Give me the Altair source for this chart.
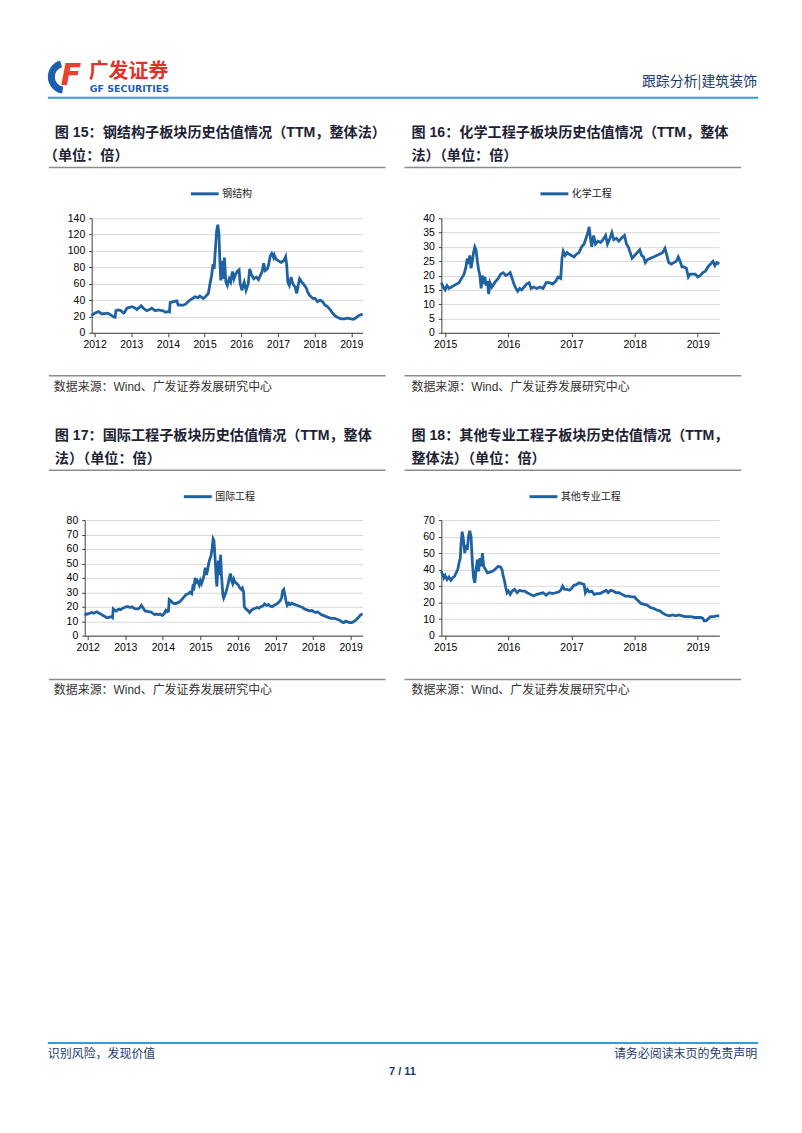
import altair as alt
import pandas as pd

# ---------------- data (decimal year, PE TTM) ----------------
YEARS_A = [2012, 2013, 2014, 2015, 2016, 2017, 2018, 2019]
YEARS_B = [2015, 2016, 2017, 2018, 2019]

STEEL = [(2011.92, 21), (2011.97, 23), (2012.06, 25), (2012.11, 26), (2012.2, 23), (2012.27, 23.5),
         (2012.34, 24), (2012.38, 23.5), (2012.47, 21), (2012.52, 19.5), (2012.56, 19), (2012.58, 27),
         (2012.63, 28), (2012.7, 27.5), (2012.79, 24), (2012.81, 24.5), (2012.88, 30), (2012.95, 31),
         (2013.01, 32), (2013.08, 31), (2013.15, 28.5), (2013.2, 30), (2013.27, 33), (2013.33, 30),
         (2013.42, 27), (2013.5, 28.5), (2013.56, 30), (2013.65, 27), (2013.74, 28), (2013.8, 27.5),
         (2013.87, 27), (2013.94, 25), (2014.01, 26), (2014.04, 25.5), (2014.06, 37), (2014.15, 38),
         (2014.24, 39), (2014.28, 34), (2014.33, 34), (2014.4, 33.5), (2014.48, 35), (2014.55, 38),
         (2014.6, 40), (2014.64, 41), (2014.73, 44), (2014.82, 43), (2014.87, 45), (2014.96, 42),
         (2015.02, 44), (2015.1, 48), (2015.14, 58), (2015.19, 70), (2015.23, 84), (2015.26, 78),
         (2015.29, 100), (2015.33, 125), (2015.36, 132), (2015.39, 122), (2015.41, 95), (2015.44, 64),
         (2015.48, 88), (2015.5, 66), (2015.54, 92), (2015.58, 62), (2015.62, 58), (2015.67, 66),
         (2015.71, 62), (2015.76, 75), (2015.8, 66), (2015.85, 72), (2015.89, 75), (2015.94, 77),
         (2015.97, 60), (2016.02, 52), (2016.05, 58), (2016.08, 62), (2016.13, 52), (2016.16, 56),
         (2016.19, 60), (2016.23, 78), (2016.27, 72), (2016.34, 66), (2016.41, 68), (2016.47, 65),
         (2016.54, 72), (2016.57, 75), (2016.61, 85), (2016.65, 76), (2016.71, 78), (2016.74, 82),
         (2016.79, 94), (2016.83, 97), (2016.88, 92), (2016.9, 95), (2016.95, 90), (2017.01, 88),
         (2017.09, 86), (2017.16, 88), (2017.21, 93), (2017.24, 82), (2017.27, 62), (2017.31, 58),
         (2017.36, 68), (2017.39, 62), (2017.43, 58), (2017.47, 56), (2017.51, 48), (2017.54, 55),
         (2017.59, 66), (2017.65, 62), (2017.69, 60), (2017.77, 55), (2017.81, 50), (2017.86, 46),
         (2017.95, 42), (2018.01, 42), (2018.08, 38), (2018.15, 40), (2018.22, 38), (2018.28, 34),
         (2018.35, 32), (2018.43, 28), (2018.49, 24), (2018.55, 21), (2018.62, 19), (2018.72, 17),
         (2018.81, 17), (2018.9, 18), (2018.99, 17), (2019.06, 16.5), (2019.12, 18), (2019.2, 21),
         (2019.31, 23)]

CHEM = [(2014.94, 17.5), (2014.97, 16), (2015.0, 15), (2015.03, 16.5), (2015.06, 15.5), (2015.1, 16),
        (2015.14, 16.5), (2015.18, 17), (2015.22, 17.5), (2015.26, 19), (2015.3, 20.5), (2015.33, 23),
        (2015.35, 26), (2015.37, 24), (2015.39, 27), (2015.41, 22.5), (2015.43, 25), (2015.45, 28),
        (2015.47, 30), (2015.49, 29), (2015.51, 25), (2015.53, 22), (2015.55, 20), (2015.57, 15.5),
        (2015.59, 20), (2015.61, 17), (2015.63, 19.5), (2015.65, 16.5), (2015.67, 18), (2015.69, 13.5),
        (2015.71, 17.5), (2015.74, 16), (2015.77, 17), (2015.8, 18), (2015.84, 19), (2015.88, 20.5),
        (2015.92, 21), (2015.96, 20), (2016.0, 20.5), (2016.03, 21), (2016.06, 19), (2016.09, 17),
        (2016.12, 15.5), (2016.15, 14.5), (2016.18, 15.5), (2016.21, 15), (2016.25, 16), (2016.29, 17),
        (2016.33, 17.5), (2016.36, 15.5), (2016.4, 16), (2016.45, 15.5), (2016.5, 16), (2016.55, 15.5),
        (2016.6, 17.5), (2016.65, 17.5), (2016.7, 17), (2016.75, 18), (2016.79, 19.5), (2016.83, 19),
        (2016.85, 26), (2016.87, 28.5), (2016.9, 27), (2016.93, 28), (2016.96, 27.5), (2017.0, 27),
        (2017.04, 26.5), (2017.08, 27.5), (2017.12, 28), (2017.16, 30), (2017.2, 31), (2017.23, 33),
        (2017.26, 35), (2017.28, 37), (2017.3, 33), (2017.32, 30), (2017.35, 34), (2017.38, 31),
        (2017.42, 32), (2017.46, 31.5), (2017.5, 32.5), (2017.54, 34), (2017.57, 31), (2017.61, 33),
        (2017.64, 35), (2017.67, 32.5), (2017.71, 33), (2017.75, 32), (2017.79, 33), (2017.84, 34),
        (2017.87, 31), (2017.9, 30), (2017.93, 28), (2017.96, 26), (2018.0, 27), (2018.04, 28),
        (2018.08, 29), (2018.11, 27), (2018.14, 26.5), (2018.17, 24.5), (2018.2, 25.5), (2018.25, 26),
        (2018.3, 26.5), (2018.35, 27), (2018.4, 27.5), (2018.44, 28), (2018.48, 29.5), (2018.51, 27),
        (2018.54, 24.5), (2018.58, 24), (2018.62, 24.5), (2018.66, 25), (2018.69, 26.5), (2018.72, 25),
        (2018.75, 23), (2018.78, 23), (2018.82, 22.5), (2018.85, 19.5), (2018.88, 20.5), (2018.92, 20.5),
        (2018.96, 20.5), (2019.0, 19.5), (2019.04, 20), (2019.08, 21), (2019.12, 21.5), (2019.16, 23),
        (2019.2, 24), (2019.24, 25), (2019.27, 23.5), (2019.3, 24.5), (2019.34, 24)]

INTL = [(2011.92, 14), (2011.96, 15), (2012.0, 15), (2012.05, 15.5), (2012.1, 16), (2012.15, 15.5),
        (2012.2, 16), (2012.25, 16.5), (2012.3, 15.5), (2012.35, 15), (2012.4, 14), (2012.45, 13.5),
        (2012.5, 12.5), (2012.55, 12.5), (2012.6, 13), (2012.64, 13), (2012.66, 12.5), (2012.68, 18.5),
        (2012.72, 17.5), (2012.76, 17), (2012.8, 18), (2012.84, 18.5), (2012.88, 18), (2012.93, 19),
        (2012.98, 19.5), (2013.03, 20), (2013.08, 20), (2013.13, 19.5), (2013.18, 20), (2013.23, 19),
        (2013.28, 18.5), (2013.33, 18.5), (2013.38, 19), (2013.43, 21), (2013.48, 19), (2013.53, 17),
        (2013.58, 17), (2013.63, 16.5), (2013.68, 16.5), (2013.73, 15.5), (2013.78, 14.5), (2013.83, 15),
        (2013.88, 14.5), (2013.93, 15), (2013.98, 14), (2014.03, 15), (2014.08, 17.5), (2014.12, 16.5),
        (2014.15, 17), (2014.17, 25), (2014.22, 24), (2014.27, 22.5), (2014.32, 22), (2014.37, 22.5),
        (2014.42, 23), (2014.47, 24), (2014.52, 25.5), (2014.57, 27), (2014.62, 28.5), (2014.67, 29),
        (2014.72, 30), (2014.77, 29), (2014.8, 34), (2014.83, 33), (2014.86, 40), (2014.89, 37),
        (2014.92, 38), (2014.97, 35), (2015.0, 38), (2015.03, 36), (2015.07, 39), (2015.1, 42),
        (2015.13, 47), (2015.16, 42), (2015.19, 45), (2015.22, 50), (2015.25, 53), (2015.28, 55),
        (2015.31, 60), (2015.34, 67), (2015.36, 66), (2015.38, 58), (2015.4, 50), (2015.42, 40),
        (2015.44, 34), (2015.46, 45), (2015.48, 52), (2015.5, 42), (2015.52, 50), (2015.54, 56),
        (2015.56, 42), (2015.58, 35), (2015.6, 28), (2015.62, 26), (2015.65, 28), (2015.68, 30),
        (2015.71, 33), (2015.74, 36), (2015.77, 40), (2015.8, 43), (2015.83, 38), (2015.86, 36),
        (2015.89, 39), (2015.92, 37), (2015.97, 36), (2016.01, 35), (2016.05, 33), (2016.09, 32),
        (2016.12, 33), (2016.15, 30), (2016.17, 20), (2016.21, 18.5), (2016.26, 17.5), (2016.31, 16),
        (2016.36, 17.5), (2016.41, 18.5), (2016.46, 19), (2016.51, 19.5), (2016.56, 19), (2016.61, 20),
        (2016.66, 20.5), (2016.71, 22), (2016.76, 21), (2016.81, 21.5), (2016.86, 20.5), (2016.91, 20),
        (2016.96, 21), (2017.01, 21.5), (2017.06, 22.5), (2017.12, 24), (2017.16, 26), (2017.19, 31),
        (2017.22, 32), (2017.25, 28), (2017.28, 24), (2017.31, 21), (2017.35, 22.5), (2017.39, 21.5),
        (2017.43, 22.5), (2017.47, 22), (2017.52, 21.5), (2017.57, 21), (2017.62, 20.5), (2017.67, 20),
        (2017.72, 19.5), (2017.77, 18.5), (2017.82, 18), (2017.87, 17.5), (2017.92, 17), (2017.97, 17.5),
        (2018.02, 16.5), (2018.07, 16), (2018.12, 16.5), (2018.17, 15.5), (2018.22, 14.5), (2018.27, 14),
        (2018.32, 13.5), (2018.37, 13), (2018.42, 12.5), (2018.47, 12), (2018.52, 12), (2018.57, 12),
        (2018.62, 11.5), (2018.67, 11), (2018.72, 10.5), (2018.77, 9.5), (2018.82, 9), (2018.87, 10),
        (2018.92, 9.5), (2018.97, 9), (2019.02, 9), (2019.07, 9.5), (2019.12, 10.5), (2019.17, 11.5),
        (2019.22, 13), (2019.27, 14.5), (2019.32, 15)]

OTHER = [(2014.94, 39), (2014.96, 37), (2014.98, 35), (2015.0, 36.5), (2015.03, 34), (2015.06, 35.5),
         (2015.09, 33.5), (2015.12, 35), (2015.15, 36), (2015.18, 38.5), (2015.2, 40), (2015.22, 44),
         (2015.24, 47), (2015.25, 55), (2015.27, 63), (2015.29, 58), (2015.31, 50), (2015.33, 55),
         (2015.35, 52), (2015.37, 60), (2015.39, 63.5), (2015.41, 60), (2015.43, 45), (2015.45, 35),
         (2015.47, 32), (2015.49, 40), (2015.51, 46), (2015.53, 39), (2015.55, 47), (2015.57, 42),
         (2015.59, 50), (2015.61, 42), (2015.64, 40), (2015.67, 38), (2015.71, 38.5), (2015.75, 39),
         (2015.8, 40.5), (2015.84, 42), (2015.88, 41.5), (2015.9, 40), (2015.92, 36), (2015.94, 33),
         (2015.96, 29), (2015.98, 26), (2016.0, 27), (2016.03, 25), (2016.06, 27), (2016.1, 28),
         (2016.14, 26), (2016.18, 27.5), (2016.22, 27), (2016.26, 27), (2016.3, 26), (2016.35, 25),
         (2016.4, 24), (2016.45, 25), (2016.5, 25.5), (2016.55, 26), (2016.6, 24.5), (2016.65, 26),
         (2016.7, 25.5), (2016.75, 26), (2016.8, 26.5), (2016.83, 27.5), (2016.86, 30), (2016.89, 28),
         (2016.93, 28), (2016.97, 27.5), (2017.0, 28.5), (2017.04, 30.5), (2017.08, 31), (2017.12, 32),
         (2017.16, 31.5), (2017.2, 31), (2017.22, 26), (2017.25, 28), (2017.28, 26.5), (2017.32, 27),
         (2017.36, 25), (2017.4, 25.5), (2017.45, 25.5), (2017.5, 26.5), (2017.55, 27.5), (2017.58, 26),
         (2017.62, 27.5), (2017.66, 27), (2017.7, 26), (2017.75, 26), (2017.8, 25), (2017.85, 24),
         (2017.9, 24), (2017.95, 23.5), (2018.0, 23.5), (2018.03, 22), (2018.06, 21), (2018.1, 19.5),
         (2018.15, 19), (2018.2, 18.5), (2018.25, 17), (2018.3, 16.5), (2018.35, 15.5), (2018.4, 15),
         (2018.45, 13.5), (2018.5, 12.5), (2018.55, 12), (2018.6, 12.5), (2018.65, 12), (2018.7, 12.5),
         (2018.75, 12), (2018.8, 11.5), (2018.85, 11.5), (2018.9, 11.5), (2018.95, 11), (2019.0, 11),
         (2019.05, 11), (2019.08, 10.5), (2019.1, 9), (2019.13, 9), (2019.16, 10), (2019.2, 11.5),
         (2019.25, 11.5), (2019.3, 12), (2019.34, 12)]

# ---------------- styles ----------------
BLUE = "#1F62A2"
NAVY = "#1B3A6B"
HEAD = "#1C2234"
GRAY_RULE = "#8C8C8C"
LIGHT_BLUE = "#3A9AD9"
FONT = "Liberation Sans, Noto Sans CJK SC"
CJK = "Noto Sans CJK SC"
OX, OY = 8, 8
ONE = pd.DataFrame({"k": [0]})


def line_chart(pairs, name, domain, years, y_max, y_step, width, height, lx, ly):
    df = pd.DataFrame(pairs, columns=["t", "v"])
    df["series"] = name
    return alt.Chart(df).mark_line(strokeWidth=2.8).encode(
        x=alt.X("t:Q", scale=alt.Scale(domain=domain, nice=False, zero=False),
                axis=alt.Axis(values=years, format="d", title=None, grid=False,
                              labelFlush=False, labelOverlap=False, labelFont="Liberation Sans",
                              labelFontSize=10.5, labelColor="#000000", labelPadding=3,
                              tickSize=4, tickColor="#404040", domainColor="#404040")),
        y=alt.Y("v:Q", scale=alt.Scale(domain=[0, y_max], nice=False),
                axis=alt.Axis(values=list(range(0, y_max + 1, y_step)), title=None, grid=True,
                              gridColor="#D9D9D9", labelFlush=False, labelOverlap=False,
                              labelFont="Liberation Sans", labelFontSize=10.5, labelColor="#000000",
                              labelPadding=4, tickSize=3, tickColor="#404040", domainColor="#404040")),
        color=alt.Color("series:N", scale=alt.Scale(range=[BLUE]),
                        legend=alt.Legend(orient="none", legendX=lx, legendY=ly, title=None,
                                          symbolType="stroke", symbolSize=784, symbolStrokeWidth=3,
                                          labelFont=CJK, labelFontSize=10, labelColor="#222222",
                                          labelOffset=2, padding=0)),
    ).properties(width=width, height=height)


def spacer(w, h):
    return alt.Chart(ONE).mark_point(opacity=0).encode(
        x=alt.value(0), y=alt.value(0)).properties(width=w, height=h)


def txt(s, x, y, size, color, weight="normal", align="left", font=FONT, italic=False):
    kw = dict(align=align, baseline="middle", fontSize=size, fontWeight=weight, font=font, color=color)
    if italic:
        kw["fontStyle"] = "italic"
    return alt.Chart(ONE).mark_text(**kw).encode(
        x=alt.value(x - OX), y=alt.value(y - OY), text=alt.value(s))


def hrule(x1, x2, y, color, w):
    return alt.Chart(ONE).mark_rule(color=color, strokeWidth=w).encode(
        x=alt.value(x1 - OX), x2=alt.value(x2 - OX), y=alt.value(y - OY))


layers = [
    # logo
    alt.Chart(ONE).mark_arc(color="#1D5FAF", radius=17, radius2=10, theta=3.3, theta2=6.0).encode(
        x=alt.value(62 - OX), y=alt.value(75 - OY)),
    txt("F", 58, 74, 30, "#E8412C", weight="bold", italic=True, font="DejaVu Sans"),
    txt("广发证券", 86, 70, 20, "#E0322B", weight="bold", font=CJK),
    txt("GF SECURITIES", 87, 87, 9.5, "#1D5FAF", weight="bold", font="DejaVu Sans"),
    txt("跟踪分析|建筑装饰", 757, 80, 14, NAVY, align="right", font=CJK),
    hrule(45, 758, 96, LIGHT_BLUE, 2),
    # headings row 1
    txt("图 15：钢结构子板块历史估值情况（TTM，整体法）", 52, 131, 14.2, HEAD, weight="bold"),
    txt("（单位：倍）", 41, 155, 14.2, HEAD, weight="bold"),
    txt("图 16：化学工程子板块历史估值情况（TTM，整体", 410, 131, 14.2, HEAD, weight="bold"),
    txt("法）（单位：倍）", 410, 155, 14.2, HEAD, weight="bold"),
    hrule(46, 384, 166, GRAY_RULE, 1.5),
    hrule(403, 741, 166, GRAY_RULE, 1.5),
    # sources row 1
    hrule(46, 384, 375, GRAY_RULE, 1.5),
    hrule(403, 741, 375, GRAY_RULE, 1.5),
    txt("数据来源：Wind、广发证券发展研究中心", 51, 386, 12, "#333333"),
    txt("数据来源：Wind、广发证券发展研究中心", 410, 386, 12, "#333333"),
    # headings row 2
    txt("图 17：国际工程子板块历史估值情况（TTM，整体", 52, 436, 14.2, HEAD, weight="bold"),
    txt("法）（单位：倍）", 52, 459, 14.2, HEAD, weight="bold"),
    txt("图 18：其他专业工程子板块历史估值情况（TTM，", 410, 436, 14.2, HEAD, weight="bold"),
    txt("整体法）（单位：倍）", 410, 459, 14.2, HEAD, weight="bold"),
    hrule(46, 384, 470, GRAY_RULE, 1.5),
    hrule(403, 741, 470, GRAY_RULE, 1.5),
    # sources row 2
    hrule(46, 384, 680, GRAY_RULE, 1.5),
    hrule(403, 741, 680, GRAY_RULE, 1.5),
    txt("数据来源：Wind、广发证券发展研究中心", 51, 691, 12, "#333333"),
    txt("数据来源：Wind、广发证券发展研究中心", 410, 691, 12, "#333333"),
    # footer
    hrule(45, 758, 1045, LIGHT_BLUE, 2),
    txt("识别风险，发现价值", 45, 1056, 12, NAVY, font=CJK),
    txt("请务必阅读末页的免责声明", 757, 1056, 12, NAVY, align="right", font=CJK),
    txt("7 / 11", 401, 1074, 11, NAVY, weight="bold", align="center", font="Liberation Sans"),
]
decor = alt.layer(*layers).properties(width=786, height=209)

c1 = line_chart(STEEL, "钢结构", [2011.92, 2019.31], YEARS_A, 140, 20, 272, 115, 98, -40)
c2 = line_chart(CHEM, "化学工程", [2014.94, 2019.34], YEARS_B, 40, 5, 279, 115, 98, -40)
c3 = line_chart(INTL, "国际工程", [2011.92, 2019.32], YEARS_A, 80, 10, 279, 116, 98, -39)
c4 = line_chart(OTHER, "其他专业工程", [2014.94, 2019.34], YEARS_B, 70, 10, 279, 116, 87, -39)

row1 = alt.hconcat(spacer(81, 115), c1, spacer(79, 115), c2, spacing=0, bounds="flush").resolve_scale(
    color="independent").resolve_legend(color="independent")
row2 = alt.hconcat(spacer(74, 116), c3, spacer(79, 116), c4, spacing=0, bounds="flush").resolve_scale(
    color="independent").resolve_legend(color="independent")

# nested concat groups count as zero height in flush layout, so the spacer covers row1's 115 px too
chart = alt.vconcat(decor, row1, spacer(10, 303), row2, spacing=0, bounds="flush").resolve_scale(
    color="independent").resolve_legend(color="independent").properties(
    padding=0
).configure_view(strokeWidth=0)

chart.save("out.html", embed_options={"renderer": "svg", "actions": False})
